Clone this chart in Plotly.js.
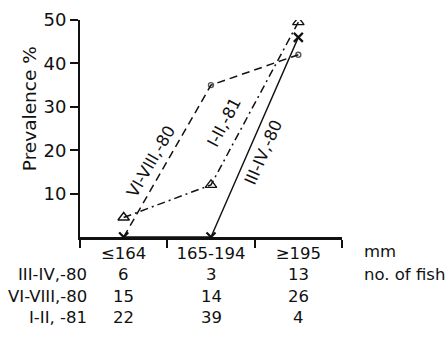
<!DOCTYPE html>
<html>
<head>
<meta charset="utf-8">
<script src="https://cdn.plot.ly/plotly-3.0.1.min.js"></script>
<style>html,body{margin:0;padding:0;background:#fff;}#chart{width:445px;height:345px;}</style>
</head>
<body>
<div id="chart"></div>
<script>
// Size classes (mm)
const categories = ["≤164", "165-194", "≥195"];
// Prevalence % per sampling period
const prevIIIIV = [0, 0, 46];
const prevVIVIII = [0, 35, 42];
const prevIII81 = [4.5, 12, 49.5];
// Series labels
const seriesNames = ["III-IV,-80", "VI-VIII,-80", "I-II,-81"];
const tableRowLabels = ["III-IV,-80", "VI-VIII,-80", "I-II, -81"];
// Number of fish per size class
const fishIIIIV = [6, 3, 13];
const fishVIVIII = [15, 14, 26];
const fishIII81 = [22, 39, 4];
const yTicks = [10, 20, 30, 40, 50];

const FONT = "DejaVu Sans";
const black = "#111";

const traces = [
  {x: categories, y: prevIIIIV, name: seriesNames[0], mode: "lines+markers",
   line: {color: black, width: 1.4},
   marker: {symbol: "x-thin-open", size: 9, line: {color: black, width: 2.2}}},
  {x: categories, y: prevVIVIII, name: seriesNames[1], mode: "lines+markers",
   line: {color: black, width: 1.5, dash: "8px,5px"},
   marker: {symbol: ["x-thin-open", "circle-open", "circle-open"], size: [9, 5, 5], color: black, line: {color: black, width: 1.4}}},
  {x: categories, y: prevIII81, name: seriesNames[2], mode: "lines+markers",
   line: {color: black, width: 1.5, dash: "8px,4px,2px,4px"},
   marker: {symbol: "triangle-up-open", size: 10, color: black, line: {color: black, width: 1.4}}}
];

const annotations = [];
const rowYs = [-0.175, -0.276, -0.372];
const fishRows = [fishIIIIV, fishVIVIII, fishIII81];
fishRows.forEach((row, r) => {
  annotations.push({xref: "paper", yref: "paper", x: 0.034, y: rowYs[r], xanchor: "right", yanchor: "middle",
    text: tableRowLabels[r], showarrow: false, font: {family: FONT, size: 16.5, color: black}});
  row.forEach((v, i) => {
    annotations.push({xref: "x", yref: "paper", x: categories[i], y: rowYs[r], xanchor: "center", yanchor: "middle",
      text: String(v), showarrow: false, font: {family: FONT, size: 16.5, color: black}});
  });
});
annotations.push({xref: "paper", yref: "paper", x: 1.076, y: -0.069, xanchor: "left", yanchor: "middle",
  text: "mm", showarrow: false, font: {family: FONT, size: 16.5, color: black}});
annotations.push({xref: "paper", yref: "paper", x: 1.076, y: rowYs[0], xanchor: "left", yanchor: "middle",
  text: "no. of fish", showarrow: false, font: {family: FONT, size: 16.5, color: black}});
// y-axis title
annotations.push({xref: "paper", yref: "paper", x: -0.19, y: 0.59, xanchor: "center", yanchor: "middle",
  text: "Prevalence %", textangle: -90, showarrow: false, font: {family: FONT, size: 18.5, color: black}});
// line labels
annotations.push({xref: "x", yref: "y", x: 0.31, y: 17.5, text: seriesNames[1], textangle: -60, showarrow: false,
  font: {family: FONT, size: 16.5, color: black}});
annotations.push({xref: "x", yref: "y", x: 1.16, y: 26.5, text: seriesNames[2], textangle: -62, showarrow: false,
  font: {family: FONT, size: 16.5, color: black}});
annotations.push({xref: "x", yref: "y", x: 1.6, y: 19.5, text: seriesNames[0], textangle: -66, showarrow: false,
  font: {family: FONT, size: 16.5, color: black}});

const layout = {
  width: 445, height: 345,
  margin: {l: 80, r: 103, t: 19.5, b: 108},
  paper_bgcolor: "#fff", plot_bgcolor: "#fff",
  showlegend: false,
  font: {family: FONT, color: black},
  xaxis: {type: "category", range: [-0.5, 2.5], tickson: "boundaries", ticks: "outside", ticklen: 8, tickwidth: 2,
    tickcolor: black, showline: true, linecolor: black, linewidth: 2.5, showgrid: false, zeroline: false,
    tickfont: {family: FONT, size: 16.5, color: black}, fixedrange: true},
  yaxis: {range: [0, 50], tickvals: yTicks, ticks: "outside", ticklen: 8, tickwidth: 2, tickcolor: black,
    showline: true, linecolor: black, linewidth: 2, showgrid: false, zeroline: false,
    tickfont: {family: FONT, size: 18, color: black}, fixedrange: true},
  annotations: annotations
};

Plotly.newPlot("chart", traces, layout, {displayModeBar: false, staticPlot: true});
</script>
</body>
</html>
